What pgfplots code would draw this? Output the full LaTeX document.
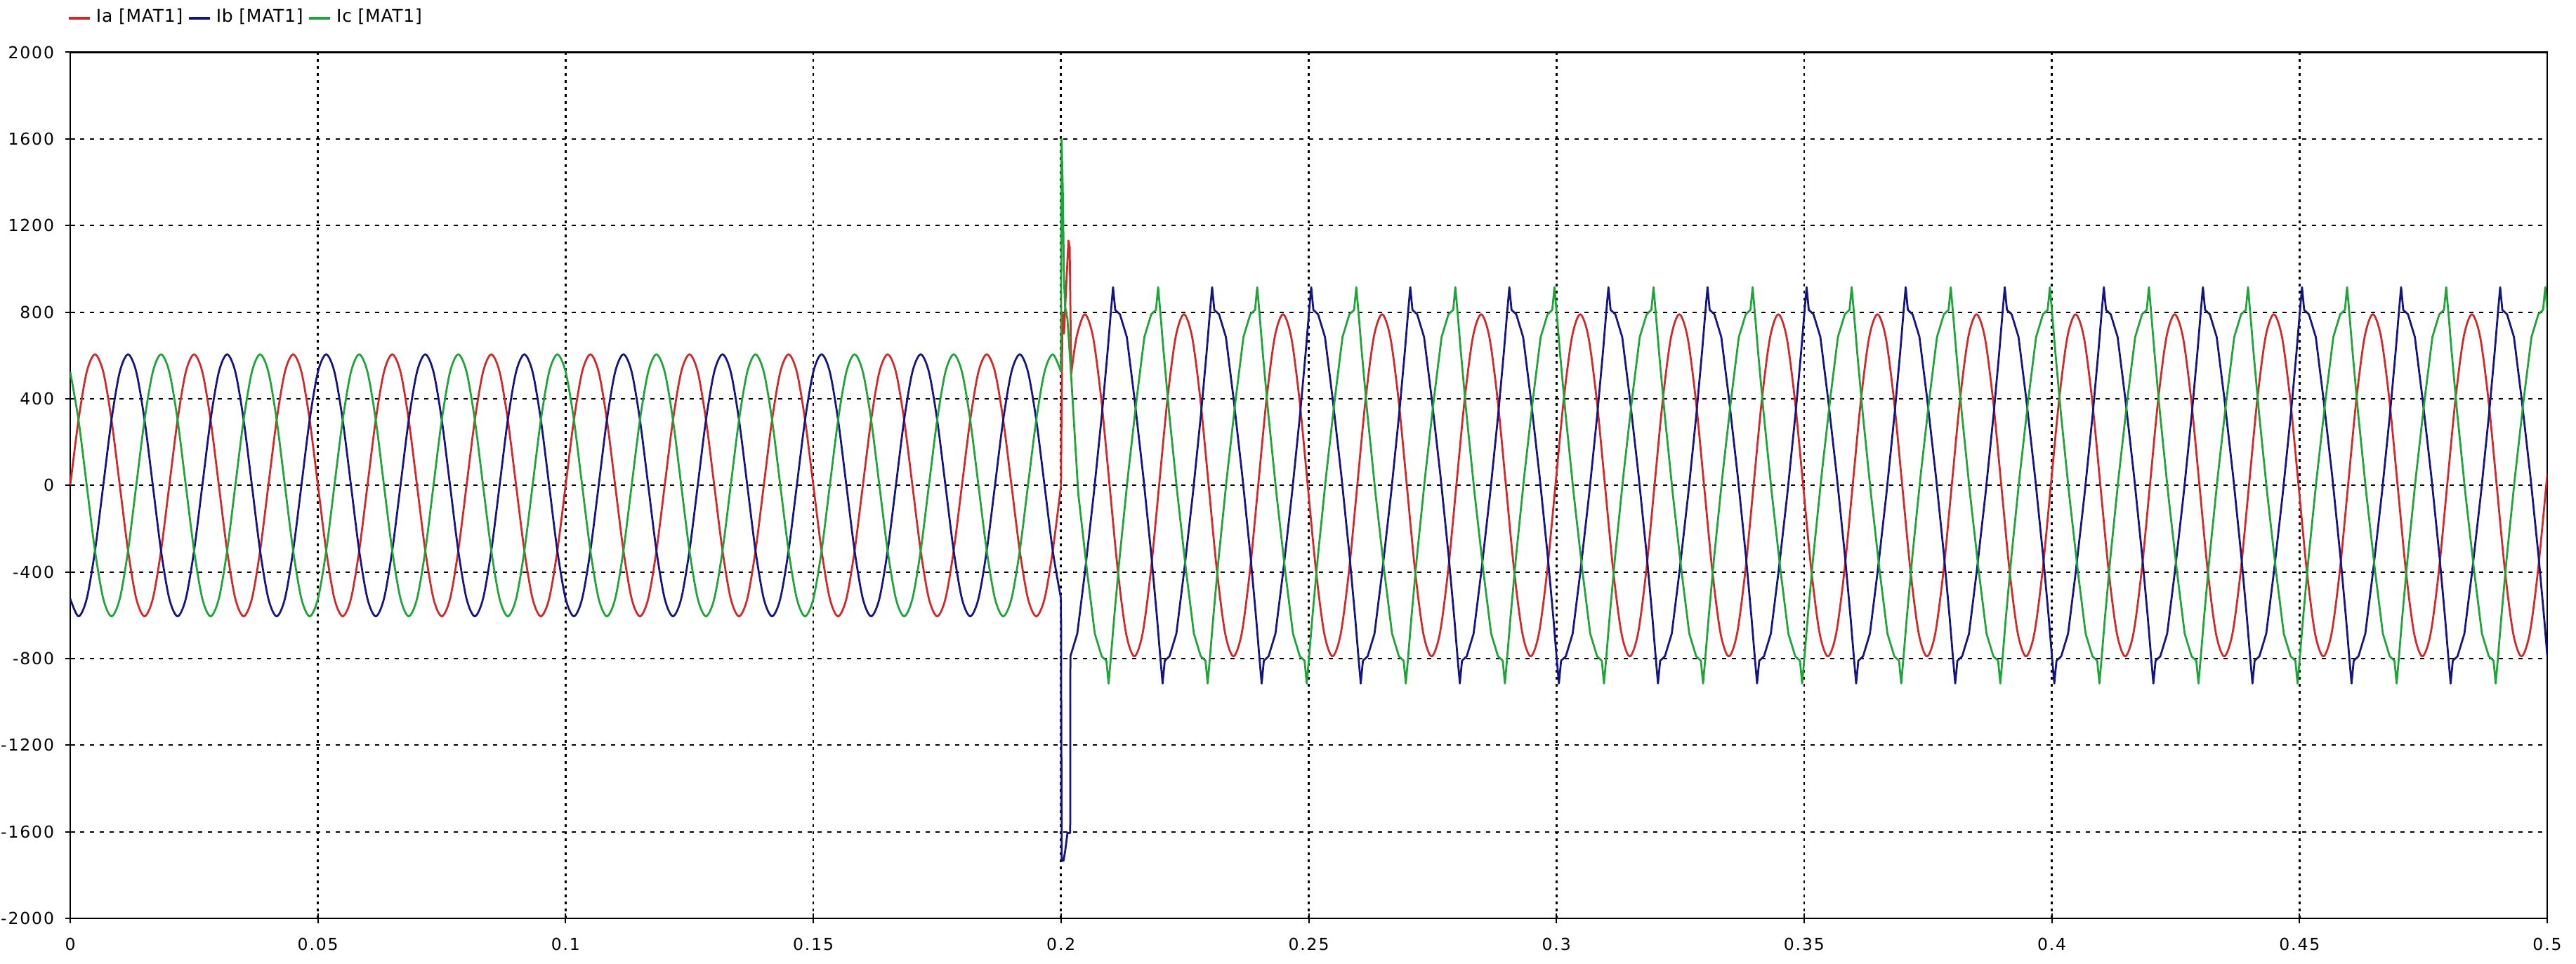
\documentclass[border=0pt]{standalone}
\usepackage{pgfplots}
\pgfplotsset{compat=1.18}
\usepackage{pgfplotstable}
\usepackage{fontspec}
\newfontfamily\labfont[LetterSpace=8]{DejaVu Sans}
\newfontfamily\legfont[LetterSpace=3]{DejaVu Sans}
\newcommand\lab{\labfont\fontsize{4.7pt}{5.5pt}\selectfont}
\newcommand\leg{\legfont\fontsize{5pt}{6pt}\selectfont}
\definecolor{ia}{RGB}{210,40,40}
\definecolor{ib}{RGB}{20,20,130}
\definecolor{ic}{RGB}{30,165,55}

% pre-fault currents, time in ms
\pgfplotstableread{
t a b c
0 0 -524 524
1.67 302 -605 302
3.33 524 -524 0
5 605 -302 -302
6.67 524 0 -524
8.33 302 302 -605
10 0 524 -524
11.67 -302 605 -302
13.33 -524 524 0
15 -605 302 302
16.67 -524 0 524
18.33 -302 -302 605
20 0 -524 524
21.67 302 -605 302
23.33 524 -524 0
25 605 -302 -302
26.67 524 0 -524
28.33 302 302 -605
30 0 524 -524
31.67 -302 605 -302
33.33 -524 524 0
35 -605 302 302
36.67 -524 0 524
38.33 -302 -302 605
40 0 -524 524
41.67 302 -605 302
43.33 524 -524 0
45 605 -302 -302
46.67 524 0 -524
48.33 302 302 -605
50 0 524 -524
51.67 -302 605 -302
53.33 -524 524 0
55 -605 302 302
56.67 -524 0 524
58.33 -302 -302 605
60 0 -524 524
61.67 302 -605 302
63.33 524 -524 0
65 605 -302 -302
66.67 524 0 -524
68.33 302 302 -605
70 0 524 -524
71.67 -302 605 -302
73.33 -524 524 0
75 -605 302 302
76.67 -524 0 524
78.33 -302 -302 605
80 0 -524 524
81.67 302 -605 302
83.33 524 -524 0
85 605 -302 -302
86.67 524 0 -524
88.33 302 302 -605
90 0 524 -524
91.67 -302 605 -302
93.33 -524 524 0
95 -605 302 302
96.67 -524 0 524
98.33 -302 -302 605
100 0 -524 524
101.67 302 -605 302
103.33 524 -524 0
105 605 -302 -302
106.67 524 0 -524
108.33 302 302 -605
110 0 524 -524
111.67 -302 605 -302
113.33 -524 524 0
115 -605 302 302
116.67 -524 0 524
118.33 -302 -302 605
120 0 -524 524
121.67 302 -605 302
123.33 524 -524 0
125 605 -302 -302
126.67 524 0 -524
128.33 302 302 -605
130 0 524 -524
131.67 -302 605 -302
133.33 -524 524 0
135 -605 302 302
136.67 -524 0 524
138.33 -302 -302 605
140 0 -524 524
141.67 302 -605 302
143.33 524 -524 0
145 605 -302 -302
146.67 524 0 -524
148.33 302 302 -605
150 0 524 -524
151.67 -302 605 -302
153.33 -524 524 0
155 -605 302 302
156.67 -524 0 524
158.33 -302 -302 605
160 0 -524 524
161.67 302 -605 302
163.33 524 -524 0
165 605 -302 -302
166.67 524 0 -524
168.33 302 302 -605
170 0 524 -524
171.67 -302 605 -302
173.33 -524 524 0
175 -605 302 302
176.67 -524 0 524
178.33 -302 -302 605
180 0 -524 524
181.67 302 -605 302
183.33 524 -524 0
185 605 -302 -302
186.67 524 0 -524
188.33 302 302 -605
190 0 524 -524
191.67 -302 605 -302
193.33 -524 524 0
195 -605 302 302
196.67 -524 0 524
198.33 -302 -302 605
200 0 -524 524
}\pre

\begin{document}
\begin{tikzpicture}
\useasboundingbox (-20pt,-13pt) rectangle (713.6pt,261.6pt);
\begin{axis}[
  at={(0pt,0pt)}, anchor=south west,
  scale only axis, width=705.4pt, height=246.7pt,
  xmin=0, xmax=500, ymin=-2000, ymax=2000,
  xtick={0,50,...,500},
  xticklabels={0,0.05,0.1,0.15,0.2,0.25,0.3,0.35,0.4,0.45,0.5},
  ytick={-2000,-1600,...,2000},
  yticklabels={-2000,-1600,-1200,-800,-400,0,400,800,1200,1600,2000},
  tick pos=left, tick align=center, major tick length=2.8pt,
  tick style={black,line width=0.4pt},
  axis line style={black,line width=0.5pt},
  grid=major,
  x grid style={black,line width=0.55pt,dash pattern=on 0.7pt off 1.3pt},
  y grid style={black,line width=0.4pt,dash pattern=on 1.2pt off 1.6pt},
  xticklabel style={font=\lab, inner sep=0pt, yshift=-4pt},
  yticklabel style={font=\lab, inner sep=0pt, xshift=-3pt},
  no markers,
  every axis plot/.append style={line width=0.55pt, line join=round},
  legend style={at={(axis description cs:0,1.0393)}, anchor=west, xshift=-1pt, draw=none, fill=none,
    inner sep=0pt, font=\leg, nodes={inner sep=0pt}, column sep=1.3pt},
  legend columns=-1,
  legend image code/.code={\draw[#1] (0pt,0pt) -- (6pt,0pt);},
]
\addplot[ia, smooth, forget plot] table[x=t,y=a]{\pre};
\addplot[ib, smooth, forget plot] table[x=t,y=b]{\pre};
\addplot[ic, smooth, forget plot] table[x=t,y=c]{\pre};

% Ia transient
\addplot[ia, forget plot] coordinates {(200,0) (200.1,330) (200.3,800) (200.6,700) (201,900) (201.5,1130) (201.75,1100) (202.05,513)};
% Ia post-fault
\addplot[ia, smooth, forget plot] coordinates {
(202.05,513) (203.13,684)
(204.8,790) (206.47,684) (208.13,395) (209.8,0) (211.47,-395) (213.13,-684) (214.8,-790) (216.47,-684) (218.13,-395) (219.8,0) (221.47,395) (223.13,684)
(224.8,790) (226.47,684) (228.13,395) (229.8,0) (231.47,-395) (233.13,-684) (234.8,-790) (236.47,-684) (238.13,-395) (239.8,0) (241.47,395) (243.13,684)
(244.8,790) (246.47,684) (248.13,395) (249.8,0) (251.47,-395) (253.13,-684) (254.8,-790) (256.47,-684) (258.13,-395) (259.8,0) (261.47,395) (263.13,684)
(264.8,790) (266.47,684) (268.13,395) (269.8,0) (271.47,-395) (273.13,-684) (274.8,-790) (276.47,-684) (278.13,-395) (279.8,0) (281.47,395) (283.13,684)
(284.8,790) (286.47,684) (288.13,395) (289.8,0) (291.47,-395) (293.13,-684) (294.8,-790) (296.47,-684) (298.13,-395) (299.8,0) (301.47,395) (303.13,684)
(304.8,790) (306.47,684) (308.13,395) (309.8,0) (311.47,-395) (313.13,-684) (314.8,-790) (316.47,-684) (318.13,-395) (319.8,0) (321.47,395) (323.13,684)
(324.8,790) (326.47,684) (328.13,395) (329.8,0) (331.47,-395) (333.13,-684) (334.8,-790) (336.47,-684) (338.13,-395) (339.8,0) (341.47,395) (343.13,684)
(344.8,790) (346.47,684) (348.13,395) (349.8,0) (351.47,-395) (353.13,-684) (354.8,-790) (356.47,-684) (358.13,-395) (359.8,0) (361.47,395) (363.13,684)
(364.8,790) (366.47,684) (368.13,395) (369.8,0) (371.47,-395) (373.13,-684) (374.8,-790) (376.47,-684) (378.13,-395) (379.8,0) (381.47,395) (383.13,684)
(384.8,790) (386.47,684) (388.13,395) (389.8,0) (391.47,-395) (393.13,-684) (394.8,-790) (396.47,-684) (398.13,-395) (399.8,0) (401.47,395) (403.13,684)
(404.8,790) (406.47,684) (408.13,395) (409.8,0) (411.47,-395) (413.13,-684) (414.8,-790) (416.47,-684) (418.13,-395) (419.8,0) (421.47,395) (423.13,684)
(424.8,790) (426.47,684) (428.13,395) (429.8,0) (431.47,-395) (433.13,-684) (434.8,-790) (436.47,-684) (438.13,-395) (439.8,0) (441.47,395) (443.13,684)
(444.8,790) (446.47,684) (448.13,395) (449.8,0) (451.47,-395) (453.13,-684) (454.8,-790) (456.47,-684) (458.13,-395) (459.8,0) (461.47,395) (463.13,684)
(464.8,790) (466.47,684) (468.13,395) (469.8,0) (471.47,-395) (473.13,-684) (474.8,-790) (476.47,-684) (478.13,-395) (479.8,0) (481.47,395) (483.13,684)
(484.8,790) (486.47,684) (488.13,395) (489.8,0) (491.47,-395) (493.13,-684) (494.8,-790) (496.47,-684) (498.13,-395) (499.8,0) (500,50)
};

% Ib transient and post-fault
\addplot[ib, forget plot] coordinates {
(200,-524) (200.05,-1054) (200.15,-1734) (200.5,-1734) (200.83,-1690) (201.3,-1606) (201.85,-1606) (201.89,-790)
(203.28,-685) (204.83,-400) (206.61,-40) (208.28,335) (209.39,615) (210.06,800)
(210.5,915) (210.94,810) (211.89,790) (213.28,685) (214.83,400) (216.61,40) (218.28,-335) (219.39,-615) (220.06,-800) (220.5,-915) (220.94,-810) (221.89,-790) (223.28,-685) (224.83,-400) (226.61,-40) (228.28,335) (229.39,615) (230.06,800)
(230.5,915) (230.94,810) (231.89,790) (233.28,685) (234.83,400) (236.61,40) (238.28,-335) (239.39,-615) (240.06,-800) (240.5,-915) (240.94,-810) (241.89,-790) (243.28,-685) (244.83,-400) (246.61,-40) (248.28,335) (249.39,615) (250.06,800)
(250.5,915) (250.94,810) (251.89,790) (253.28,685) (254.83,400) (256.61,40) (258.28,-335) (259.39,-615) (260.06,-800) (260.5,-915) (260.94,-810) (261.89,-790) (263.28,-685) (264.83,-400) (266.61,-40) (268.28,335) (269.39,615) (270.06,800)
(270.5,915) (270.94,810) (271.89,790) (273.28,685) (274.83,400) (276.61,40) (278.28,-335) (279.39,-615) (280.06,-800) (280.5,-915) (280.94,-810) (281.89,-790) (283.28,-685) (284.83,-400) (286.61,-40) (288.28,335) (289.39,615) (290.06,800)
(290.5,915) (290.94,810) (291.89,790) (293.28,685) (294.83,400) (296.61,40) (298.28,-335) (299.39,-615) (300.06,-800) (300.5,-915) (300.94,-810) (301.89,-790) (303.28,-685) (304.83,-400) (306.61,-40) (308.28,335) (309.39,615) (310.06,800)
(310.5,915) (310.94,810) (311.89,790) (313.28,685) (314.83,400) (316.61,40) (318.28,-335) (319.39,-615) (320.06,-800) (320.5,-915) (320.94,-810) (321.89,-790) (323.28,-685) (324.83,-400) (326.61,-40) (328.28,335) (329.39,615) (330.06,800)
(330.5,915) (330.94,810) (331.89,790) (333.28,685) (334.83,400) (336.61,40) (338.28,-335) (339.39,-615) (340.06,-800) (340.5,-915) (340.94,-810) (341.89,-790) (343.28,-685) (344.83,-400) (346.61,-40) (348.28,335) (349.39,615) (350.06,800)
(350.5,915) (350.94,810) (351.89,790) (353.28,685) (354.83,400) (356.61,40) (358.28,-335) (359.39,-615) (360.06,-800) (360.5,-915) (360.94,-810) (361.89,-790) (363.28,-685) (364.83,-400) (366.61,-40) (368.28,335) (369.39,615) (370.06,800)
(370.5,915) (370.94,810) (371.89,790) (373.28,685) (374.83,400) (376.61,40) (378.28,-335) (379.39,-615) (380.06,-800) (380.5,-915) (380.94,-810) (381.89,-790) (383.28,-685) (384.83,-400) (386.61,-40) (388.28,335) (389.39,615) (390.06,800)
(390.5,915) (390.94,810) (391.89,790) (393.28,685) (394.83,400) (396.61,40) (398.28,-335) (399.39,-615) (400.06,-800) (400.5,-915) (400.94,-810) (401.89,-790) (403.28,-685) (404.83,-400) (406.61,-40) (408.28,335) (409.39,615) (410.06,800)
(410.5,915) (410.94,810) (411.89,790) (413.28,685) (414.83,400) (416.61,40) (418.28,-335) (419.39,-615) (420.06,-800) (420.5,-915) (420.94,-810) (421.89,-790) (423.28,-685) (424.83,-400) (426.61,-40) (428.28,335) (429.39,615) (430.06,800)
(430.5,915) (430.94,810) (431.89,790) (433.28,685) (434.83,400) (436.61,40) (438.28,-335) (439.39,-615) (440.06,-800) (440.5,-915) (440.94,-810) (441.89,-790) (443.28,-685) (444.83,-400) (446.61,-40) (448.28,335) (449.39,615) (450.06,800)
(450.5,915) (450.94,810) (451.89,790) (453.28,685) (454.83,400) (456.61,40) (458.28,-335) (459.39,-615) (460.06,-800) (460.5,-915) (460.94,-810) (461.89,-790) (463.28,-685) (464.83,-400) (466.61,-40) (468.28,335) (469.39,615) (470.06,800)
(470.5,915) (470.94,810) (471.89,790) (473.28,685) (474.83,400) (476.61,40) (478.28,-335) (479.39,-615) (480.06,-800) (480.5,-915) (480.94,-810) (481.89,-790) (483.28,-685) (484.83,-400) (486.61,-40) (488.28,335) (489.39,615) (490.06,800)
(490.5,915) (490.94,810) (491.89,790) (493.28,685) (494.83,400) (496.61,40) (498.28,-335) (499.39,-615) (500,-785)
};

% Ic transient and post-fault
\addplot[ic, forget plot] coordinates {
(200,524) (200.05,1043) (200.11,1600) (200.35,1376) (200.6,950) (200.83,825) (201.3,767) (202,521)
(203.49,-40) (205.27,-400) (206.82,-685) (208.21,-790) (209.16,-810) (209.6,-915) (210.04,-800) (210.71,-615) (211.82,-335) (213.49,40) (215.27,400) (216.82,685) (218.21,790) (219.16,810)
(219.6,915) (220.04,800) (220.71,615) (221.82,335) (223.49,-40) (225.27,-400) (226.82,-685) (228.21,-790) (229.16,-810) (229.6,-915) (230.04,-800) (230.71,-615) (231.82,-335) (233.49,40) (235.27,400) (236.82,685) (238.21,790) (239.16,810)
(239.6,915) (240.04,800) (240.71,615) (241.82,335) (243.49,-40) (245.27,-400) (246.82,-685) (248.21,-790) (249.16,-810) (249.6,-915) (250.04,-800) (250.71,-615) (251.82,-335) (253.49,40) (255.27,400) (256.82,685) (258.21,790) (259.16,810)
(259.6,915) (260.04,800) (260.71,615) (261.82,335) (263.49,-40) (265.27,-400) (266.82,-685) (268.21,-790) (269.16,-810) (269.6,-915) (270.04,-800) (270.71,-615) (271.82,-335) (273.49,40) (275.27,400) (276.82,685) (278.21,790) (279.16,810)
(279.6,915) (280.04,800) (280.71,615) (281.82,335) (283.49,-40) (285.27,-400) (286.82,-685) (288.21,-790) (289.16,-810) (289.6,-915) (290.04,-800) (290.71,-615) (291.82,-335) (293.49,40) (295.27,400) (296.82,685) (298.21,790) (299.16,810)
(299.6,915) (300.04,800) (300.71,615) (301.82,335) (303.49,-40) (305.27,-400) (306.82,-685) (308.21,-790) (309.16,-810) (309.6,-915) (310.04,-800) (310.71,-615) (311.82,-335) (313.49,40) (315.27,400) (316.82,685) (318.21,790) (319.16,810)
(319.6,915) (320.04,800) (320.71,615) (321.82,335) (323.49,-40) (325.27,-400) (326.82,-685) (328.21,-790) (329.16,-810) (329.6,-915) (330.04,-800) (330.71,-615) (331.82,-335) (333.49,40) (335.27,400) (336.82,685) (338.21,790) (339.16,810)
(339.6,915) (340.04,800) (340.71,615) (341.82,335) (343.49,-40) (345.27,-400) (346.82,-685) (348.21,-790) (349.16,-810) (349.6,-915) (350.04,-800) (350.71,-615) (351.82,-335) (353.49,40) (355.27,400) (356.82,685) (358.21,790) (359.16,810)
(359.6,915) (360.04,800) (360.71,615) (361.82,335) (363.49,-40) (365.27,-400) (366.82,-685) (368.21,-790) (369.16,-810) (369.6,-915) (370.04,-800) (370.71,-615) (371.82,-335) (373.49,40) (375.27,400) (376.82,685) (378.21,790) (379.16,810)
(379.6,915) (380.04,800) (380.71,615) (381.82,335) (383.49,-40) (385.27,-400) (386.82,-685) (388.21,-790) (389.16,-810) (389.6,-915) (390.04,-800) (390.71,-615) (391.82,-335) (393.49,40) (395.27,400) (396.82,685) (398.21,790) (399.16,810)
(399.6,915) (400.04,800) (400.71,615) (401.82,335) (403.49,-40) (405.27,-400) (406.82,-685) (408.21,-790) (409.16,-810) (409.6,-915) (410.04,-800) (410.71,-615) (411.82,-335) (413.49,40) (415.27,400) (416.82,685) (418.21,790) (419.16,810)
(419.6,915) (420.04,800) (420.71,615) (421.82,335) (423.49,-40) (425.27,-400) (426.82,-685) (428.21,-790) (429.16,-810) (429.6,-915) (430.04,-800) (430.71,-615) (431.82,-335) (433.49,40) (435.27,400) (436.82,685) (438.21,790) (439.16,810)
(439.6,915) (440.04,800) (440.71,615) (441.82,335) (443.49,-40) (445.27,-400) (446.82,-685) (448.21,-790) (449.16,-810) (449.6,-915) (450.04,-800) (450.71,-615) (451.82,-335) (453.49,40) (455.27,400) (456.82,685) (458.21,790) (459.16,810)
(459.6,915) (460.04,800) (460.71,615) (461.82,335) (463.49,-40) (465.27,-400) (466.82,-685) (468.21,-790) (469.16,-810) (469.6,-915) (470.04,-800) (470.71,-615) (471.82,-335) (473.49,40) (475.27,400) (476.82,685) (478.21,790) (479.16,810)
(479.6,915) (480.04,800) (480.71,615) (481.82,335) (483.49,-40) (485.27,-400) (486.82,-685) (488.21,-790) (489.16,-810) (489.6,-915) (490.04,-800) (490.71,-615) (491.82,-335) (493.49,40) (495.27,400) (496.82,685) (498.21,790) (499.16,810)
(499.6,915) (500,810)
};

\addlegendimage{ia, line width=0.9pt}\addlegendentry{Ia [MAT1]}
\addlegendimage{ib, line width=0.9pt}\addlegendentry{Ib [MAT1]}
\addlegendimage{ic, line width=0.9pt}\addlegendentry{Ic [MAT1]}
\end{axis}
\end{tikzpicture}
\end{document}
